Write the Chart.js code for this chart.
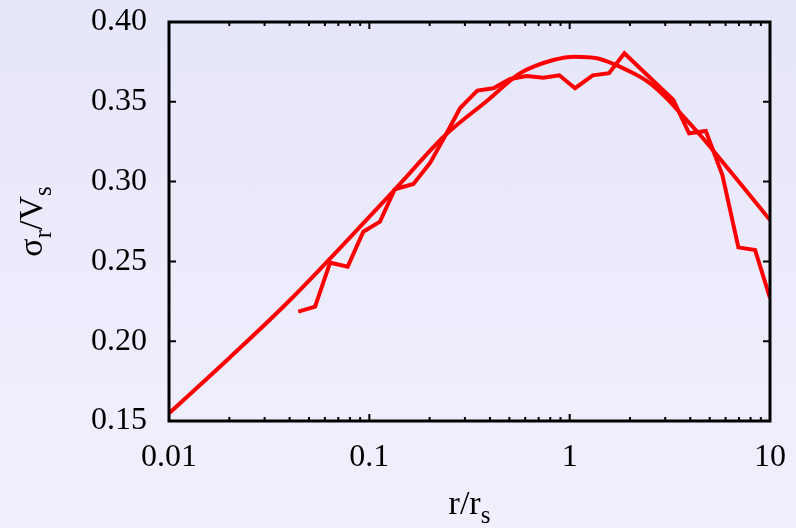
<!DOCTYPE html>
<html>
<head>
<meta charset="utf-8">
<script src="https://cdn.jsdelivr.net/npm/chart.js@4"></script>
<style>
  html, body { margin: 0; padding: 0; }
  body { width: 796px; height: 528px; background: linear-gradient(to bottom, #e6e6fa, #f0f0fc); overflow: hidden; }
  canvas { display: block; }
</style>
</head>
<body>
<canvas id="sigmaChart" width="796" height="528"></canvas>
<script>
// measured profile
const radius = [0.0442, 0.0536, 0.0637, 0.0780, 0.0933, 0.113, 0.134, 0.166, 0.201, 0.242,
  0.284, 0.346, 0.416, 0.504, 0.611, 0.739, 0.888, 1.064, 1.304, 1.573,
  1.876, 3.294, 3.946, 4.781, 5.786, 6.953, 8.427, 10.0];
const dispersion = [0.2185, 0.2216, 0.2492, 0.2467, 0.2686, 0.2749, 0.2952, 0.2985, 0.3117, 0.3298,
  0.3461, 0.3570, 0.3585, 0.3643, 0.3662, 0.3651, 0.3666, 0.3585, 0.3666, 0.3679,
  0.3804, 0.3511, 0.3303, 0.3317, 0.3041, 0.2588, 0.2571, 0.2271];

// model curve
const modelRadius = [0.01, 0.02, 0.0402, 0.1344, 0.239, 0.386, 0.566, 0.829, 1.064,
  1.366, 2.08, 2.52, 3.05, 3.70, 4.48, 5.43, 7.09, 10.0];
const modelDispersion = [0.1548, 0.1895, 0.2258, 0.2952, 0.3290, 0.3505, 0.3679, 0.3762, 0.3783,
  0.3773, 0.3679, 0.3616, 0.3522, 0.3407, 0.3292, 0.3167, 0.2989, 0.2759];

const xMajorTicks = [0.01, 0.1, 1, 10];
const xTickLabels = ['0.01', '0.1', '1', '10'];
const yTicks = [0.15, 0.20, 0.25, 0.30, 0.35, 0.40];

const FONT = "'Liberation Serif', 'Times New Roman', serif";
const FONT_SIZE = 32;
const RED = '#ff0000';

// every decade gets 1..9 ticks, labels only on the powers of ten
const xAllTicks = [];
xMajorTicks.slice(0, -1).forEach(d => {
  for (let k = 1; k < 10; k++) xAllTicks.push(+(d * k).toPrecision(3));
});
xAllTicks.push(xMajorTicks[xMajorTicks.length - 1]);

const toPoints = (xs, ys) => xs.map((x, i) => ({ x, y: ys[i] }));

// boxed frame with inward ticks on all four sides + axis titles with subscripts
const framePlugin = {
  id: 'frame',
  afterDraw(chart) {
    const { ctx, chartArea: a, scales: { x, y } } = chart;
    ctx.save();
    ctx.strokeStyle = '#000';
    ctx.lineWidth = 2;
    xAllTicks.forEach(v => {
      const px = x.getPixelForValue(v);
      const len = xMajorTicks.includes(v) ? 7 : 4;
      ctx.beginPath();
      ctx.moveTo(px, a.bottom); ctx.lineTo(px, a.bottom - len);
      ctx.moveTo(px, a.top); ctx.lineTo(px, a.top + len);
      ctx.stroke();
    });
    yTicks.forEach(v => {
      const py = y.getPixelForValue(v);
      ctx.beginPath();
      ctx.moveTo(a.left, py); ctx.lineTo(a.left + 7, py);
      ctx.moveTo(a.right, py); ctx.lineTo(a.right - 7, py);
      ctx.stroke();
    });
    ctx.lineWidth = 3;
    ctx.strokeRect(a.left, a.top, a.right - a.left, a.bottom - a.top);

    ctx.fillStyle = '#000';
    ctx.textBaseline = 'alphabetic';
    ctx.textAlign = 'left';
    const drawTitle = (parts) => {
      let w = 0;
      parts.forEach(p => { ctx.font = p.size + 'px ' + FONT; w += ctx.measureText(p.t).width; });
      let cx = -w / 2;
      parts.forEach(p => {
        ctx.font = p.size + 'px ' + FONT;
        ctx.fillText(p.t, cx, p.dy);
        cx += ctx.measureText(p.t).width;
      });
    };

    // x title: r/r_s
    ctx.save();
    ctx.translate((a.left + a.right) / 2, 514);
    drawTitle([{ t: 'r/r', size: 34, dy: 0 }, { t: 's', size: 25, dy: 9 }]);
    ctx.restore();

    // y title: sigma_r / V_s
    ctx.save();
    ctx.translate(42, (a.top + a.bottom) / 2);
    ctx.rotate(-Math.PI / 2);
    drawTitle([{ t: 'σ', size: 34, dy: 0 }, { t: 'r', size: 25, dy: 9 }, { t: '/V', size: 34, dy: 0 }, { t: 's', size: 25, dy: 9 }]);
    ctx.restore();
    ctx.restore();
  }
};

new Chart(document.getElementById('sigmaChart'), {
  type: 'scatter',
  data: {
    datasets: [
      {
        label: 'model',
        data: toPoints(modelRadius, modelDispersion),
        showLine: true,
        borderColor: RED,
        borderWidth: 4,
        pointRadius: 0,
        cubicInterpolationMode: 'monotone'
      },
      {
        label: 'measured',
        data: toPoints(radius, dispersion),
        showLine: true,
        borderColor: RED,
        borderWidth: 4,
        borderJoinStyle: 'miter',
        pointRadius: 0,
        tension: 0
      }
    ]
  },
  options: {
    responsive: false,
    animation: false,
    layout: { padding: { top: 22, right: 26, left: 0, bottom: 0 } },
    plugins: { legend: { display: false }, tooltip: { enabled: false } },
    scales: {
      x: {
        type: 'logarithmic',
        min: 0.01,
        max: 10,
        // tick marks are drawn by the frame plugin; tickLength only spaces the labels
        grid: { display: false, drawTicks: true, tickLength: 17 },
        border: { display: false },
        afterBuildTicks: s => { s.ticks = xAllTicks.map(v => ({ value: v })); },
        afterFit: s => { s.height = 107; },
        ticks: {
          autoSkip: false,
          maxRotation: 0,
          padding: 0,
          color: '#000',
          font: { family: FONT, size: FONT_SIZE },
          callback: v => {
            const i = xMajorTicks.indexOf(v);
            return i >= 0 ? xTickLabels[i] : '';
          }
        }
      },
      y: {
        min: 0.15,
        max: 0.40,
        grid: { display: false, drawTicks: true, tickLength: 22 },
        border: { display: false },
        afterBuildTicks: s => { s.ticks = yTicks.map(v => ({ value: v })); },
        afterFit: s => { s.width = 169; },
        ticks: {
          padding: 0,
          color: '#000',
          font: { family: FONT, size: FONT_SIZE },
          callback: v => v.toFixed(2)
        }
      }
    }
  },
  plugins: [framePlugin]
});
</script>
</body>
</html>
